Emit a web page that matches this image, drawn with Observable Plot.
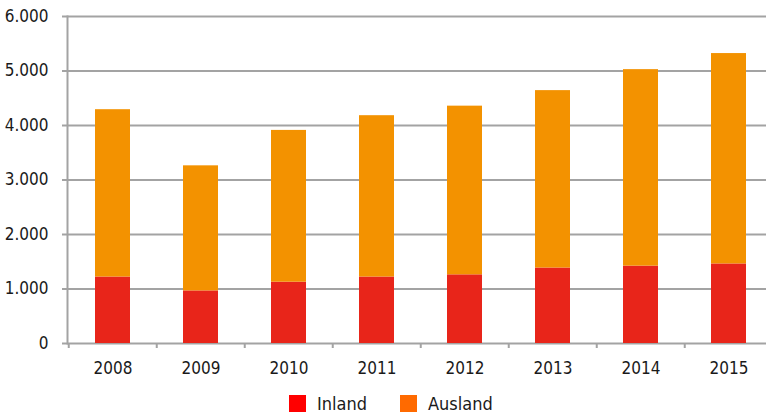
<!DOCTYPE html>
<html>
<head>
<meta charset="utf-8">
<script src="https://cdn.jsdelivr.net/npm/d3@7"></script>
<script src="https://cdn.jsdelivr.net/npm/@observablehq/plot@0.6"></script>
<style>
  html, body { margin: 0; padding: 0; background: #fff; overflow: hidden; }
  #chart { width: 766px; }
  .legend { display: flex; align-items: center; margin-left: 289px; margin-top: 7px;
    font-family: "DejaVu Sans Condensed", "Liberation Sans Narrow", sans-serif; font-size: 18px; color: #1a1a1a; line-height: 17px; }
  .legend .item { display: flex; align-items: center; }
  .legend .sw { width: 17px; height: 17px; display: inline-block; margin-right: 11px; }
  .legend .lab { margin-right: 33px; }
</style>
</head>
<body>
<div id="chart"></div>
<script>
const years = ["2008", "2009", "2010", "2011", "2012", "2013", "2014", "2015"];
const series = ["Inland", "Ausland"];
const inland = [1220, 965, 1125, 1220, 1260, 1385, 1420, 1460];
const ausland = [3070, 2295, 2785, 2960, 3095, 3255, 3605, 3860];
const yTicks = [0, 1000, 2000, 3000, 4000, 5000, 6000];
const barColors = ["#e8251a", "#f39200"];
const legendColors = ["#ff0000", "#ff6a00"];

const data = [];
years.forEach((y, i) => {
  data.push({year: y, type: "Inland", value: inland[i]});
  data.push({year: y, type: "Ausland", value: ausland[i]});
});

const de = d3.formatLocale({decimal: ",", thousands: ".", grouping: [3], currency: ["", " €"]});
const fmt = de.format(",");
const gray = "#a3a3a3";

const plot = Plot.plot({
  width: 766,
  height: 388,
  marginTop: 16,
  marginBottom: 45,
  marginLeft: 67,
  marginRight: -9,
  style: {fontFamily: "'DejaVu Sans Condensed', 'Liberation Sans Narrow', sans-serif", fontSize: "17px", color: "#1a1a1a", background: "#fff"},
  x: {domain: years, paddingInner: 0.6, paddingOuter: 0.3, label: null},
  y: {domain: [0, 6000], label: null},
  color: {domain: series, range: barColors},
  marks: [
    Plot.ruleY(yTicks, {y: d => d, stroke: gray, strokeWidth: 2, insetLeft: -5}),
    Plot.frame({anchor: "left", stroke: gray, strokeWidth: 2}),
    Plot.ruleX(years, {x: d => d, y1: 0, y2: 0, dx: -44.25, insetBottom: -5, stroke: gray, strokeWidth: 2}),
    Plot.barY(data, {x: "year", y: "value", fill: "type"}),
    Plot.axisY({ticks: yTicks, tickSize: 0, tickPadding: 19, tickFormat: fmt, fill: "#1a1a1a", label: null}),
    Plot.axisX({tickSize: 0, tickPadding: 18, fill: "#1a1a1a", label: null})
  ]
});
document.getElementById("chart").appendChild(plot);

const legend = document.createElement("div");
legend.className = "legend";
series.forEach((s, i) => {
  const item = document.createElement("div");
  item.className = "item";
  const sw = document.createElement("span");
  sw.className = "sw";
  sw.style.background = legendColors[i];
  const lab = document.createElement("span");
  lab.className = "lab";
  lab.textContent = s;
  item.appendChild(sw);
  item.appendChild(lab);
  legend.appendChild(item);
});
document.getElementById("chart").appendChild(legend);
</script>
</body>
</html>
